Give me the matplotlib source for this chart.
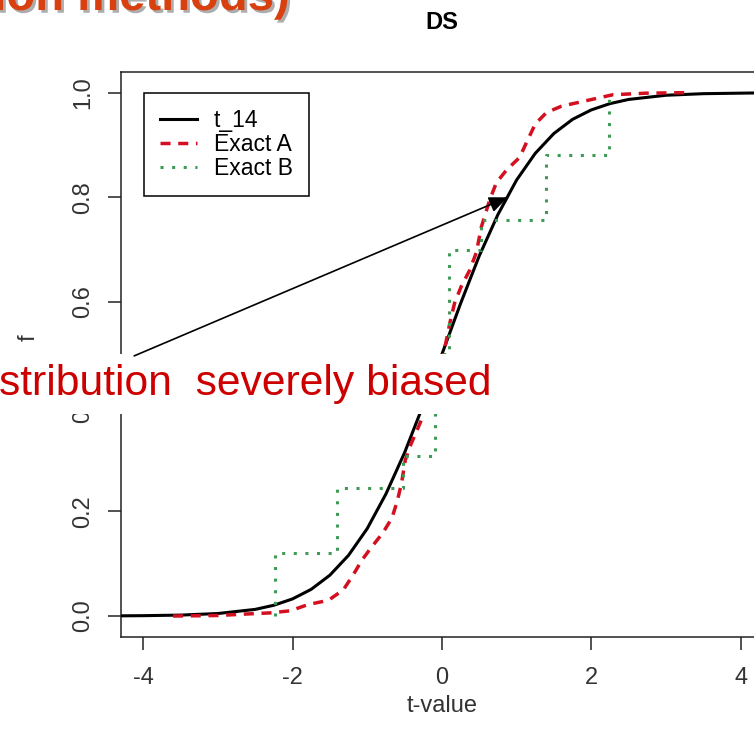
import matplotlib
matplotlib.use("Agg")
import matplotlib.pyplot as plt
import matplotlib.patheffects as pe

plt.rcParams['font.family'] = ['Liberation Sans', 'DejaVu Sans']

# t_14 curve
t_x = [-4.3, -4.0, -3.5, -3.0, -2.5, -2.25, -2.0, -1.75, -1.5, -1.25, -1.0, -0.75,
       -0.5, -0.25, 0.0, 0.25, 0.5, 0.75, 1.0, 1.25, 1.5, 1.75, 2.0, 2.25, 2.5,
       3.0, 3.5, 4.0, 4.3]
t_y = [0.0004, 0.0007, 0.0018, 0.0048, 0.0127, 0.0206, 0.0327, 0.051, 0.078, 0.116,
       0.167, 0.233, 0.312, 0.403, 0.5, 0.597, 0.688, 0.767, 0.833, 0.884, 0.922,
       0.949, 0.967, 0.979, 0.987, 0.995, 0.998, 0.999, 0.9996]

# Exact A (red dashed)
a_x = [-3.6, -3.0, -2.6, -2.3, -2.03, -1.79, -1.52, -1.32, -1.19, -1.07, -0.94, -0.79,
       -0.67, -0.60, -0.54, -0.49, -0.43, -0.33, -0.2, -0.05, 0.05, 0.107, 0.17, 0.26,
       0.37, 0.46, 0.53, 0.64, 0.73, 0.87, 1.04, 1.15, 1.25, 1.4, 1.6, 1.85, 2.29,
       2.74, 3.3]
a_y = [0.0, 0.001, 0.004, 0.006, 0.01, 0.022, 0.03, 0.05, 0.078, 0.107, 0.132, 0.159,
       0.187, 0.218, 0.254, 0.298, 0.323, 0.356, 0.40, 0.46, 0.52, 0.56, 0.598, 0.63,
       0.66, 0.694, 0.744, 0.795, 0.828, 0.853, 0.876, 0.91, 0.94, 0.962, 0.974,
       0.982, 0.996, 0.999, 1.0]

# Exact B (green dotted step function)
b_x = [-2.24, -1.40, -0.52, -0.09, 0.09, 0.52, 1.40, 2.24]
b_y = [0.12, 0.245, 0.305, 0.5, 0.70, 0.757, 0.88, 1.0]

xticks = [-4, -2, 0, 2, 4]
yticks = [0.0, 0.2, 0.4, 0.6, 0.8, 1.0]
ytick_labels = ['0.0', '0.2', '0.4', '0.6', '0.8', '1.0']

fig = plt.figure(figsize=(7.54, 7.43), dpi=100)
ax = fig.add_axes([0.1601, 0.1427, 0.8519, 0.7608])

ax.plot(t_x, t_y, color='black', lw=2.2, label='t_14', zorder=3)
ax.plot(a_x, a_y, color='#d41020', lw=2.5, linestyle=(0, (2.9, 2.2)), label='Exact A', zorder=4)
ax.step([-2.24] + b_x, [0.0] + b_y, where='post', color='#3f9a55', lw=2.2,
        linestyle=(0, (1, 2.8)), label='Exact B', zorder=5)

ax.set_xlim(-4.3, 4.3)
ax.set_ylim(-0.04, 1.04)
ax.set_xticks(xticks)
ax.set_xticklabels([str(v) for v in xticks])
ax.set_yticks(yticks)
ax.set_yticklabels(ytick_labels, rotation=90, va='center')
ax.tick_params(axis='both', length=9.4, width=1.1, color='#222222',
               labelsize=17, labelcolor='#333333')
ax.tick_params(axis='x', pad=12)
ax.tick_params(axis='y', pad=10)
for s in ax.spines.values():
    s.set_linewidth(1.1)
    s.set_color('#222222')

ax.set_xlabel('t-value', fontsize=17, color='#333333', va='center')
ax.xaxis.set_label_coords(0.5, -0.122)
ax.set_ylabel('f', fontsize=17, color='#333333', va='center')
ax.yaxis.set_label_coords(-0.143, 0.529)

ax.set_title('DS', fontsize=17, fontweight='bold', pad=30.7)

leg = ax.legend(loc='upper left', bbox_to_anchor=(0.0363, 0.962), borderaxespad=0,
                fontsize=16.5, fancybox=False, edgecolor='black', framealpha=1,
                handlelength=1.6, handletextpad=0.75, labelspacing=0.04, borderpad=0.7)
leg.get_frame().set_linewidth(1.1)

# white label box over the plot, arrow on top of it
ax.text(-1 / 754, 1 - 395 / 743, 'stribution  severely biased', transform=fig.transFigure,
        ha='left', va='baseline', fontsize=30.7, color='#cc0000',
        bbox=dict(facecolor='white', edgecolor='none', pad=7), zorder=11, clip_on=False)
ax.annotate('', xy=(0.88, 0.80), xytext=(-4.12, 0.497),
            arrowprops=dict(arrowstyle='-|>,head_length=0.7,head_width=0.3', color='black',
                            lw=1.2, mutation_scale=16, shrinkA=0, shrinkB=0),
            annotation_clip=False, zorder=12)

# slide heading, mostly cut off at the top
fig.text(290 / 754, 1 - 10 / 743, 'ion methods)', ha='right', va='baseline', fontsize=34,
         fontweight='bold', color='#d9400f',
         path_effects=[pe.withSimplePatchShadow(offset=(2, -2), shadow_rgbFace='#999999', alpha=0.8)])

fig.savefig('out.png', dpi=100)
